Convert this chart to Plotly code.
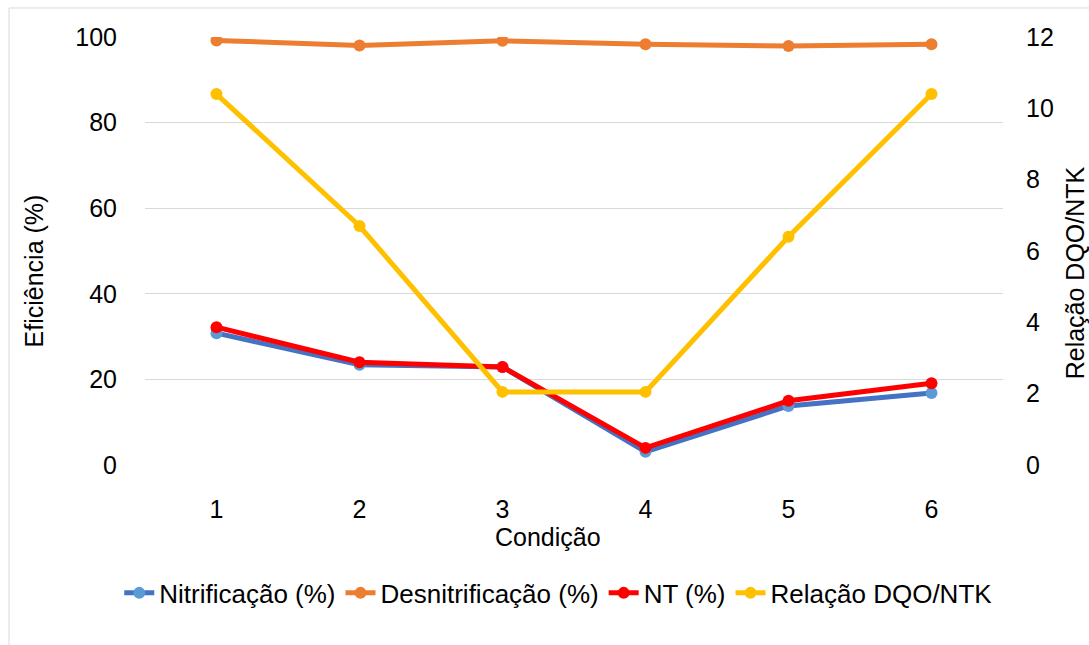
import plotly.graph_objects as go

condicoes = ["1", "2", "3", "4", "5", "6"]
nitrificacao = [30.8, 23.4, 22.9, 3.1, 13.8, 16.8]
desnitrificacao = [99.2, 98.0, 99.1, 98.3, 97.9, 98.3]
nt = [32.2, 24.0, 22.9, 4.0, 15.0, 19.1]
relacao = [10.4, 6.7, 2.05, 2.05, 6.4, 10.4]

FONT = "Liberation Sans, Arial, sans-serif"
FS = 25

fig = go.Figure()
fig.add_trace(go.Scatter(x=condicoes, y=nitrificacao, name="Nitrificação (%)", mode="lines+markers",
                         line=dict(color="#4472C4", width=5), marker=dict(color="#5B9BD5", size=12)))
fig.add_trace(go.Scatter(x=condicoes, y=desnitrificacao, name="Desnitrificação (%)", mode="lines+markers",
                         line=dict(color="#ED7D31", width=5), marker=dict(color="#ED7D31", size=12)))
fig.add_trace(go.Scatter(x=condicoes, y=nt, name="NT (%)", mode="lines+markers",
                         line=dict(color="#FF0000", width=5), marker=dict(color="#FF0000", size=12)))
fig.add_trace(go.Scatter(x=condicoes, y=relacao, name="Relação DQO/NTK", mode="lines+markers", yaxis="y2",
                         line=dict(color="#FFC000", width=5), marker=dict(color="#FFC000", size=12)))

fig.update_layout(
    width=1089, height=645,
    margin=dict(l=145, r=86, t=37, b=180),
    paper_bgcolor="white", plot_bgcolor="white",
    font=dict(family=FONT, size=FS, color="#000000"),
    showlegend=True,
    legend=dict(orientation="h", x=-0.03, xanchor="left", y=-0.299, yanchor="middle",
                font=dict(size=26), itemwidth=30, tracegroupgap=0, bgcolor="rgba(0,0,0,0)"),
    xaxis=dict(type="category", range=[-0.5, 5.5], showgrid=False, zeroline=False, showline=False,
               ticks="outside", ticklen=22, tickcolor="rgba(0,0,0,0)"),
    yaxis=dict(range=[0, 100], dtick=20, showgrid=True, gridcolor="#D9D9D9", gridwidth=1,
               zeroline=False, showline=False, ticks="outside", ticklen=22, tickcolor="rgba(0,0,0,0)"),
    yaxis2=dict(range=[0, 12], dtick=2, overlaying="y", side="right", showgrid=False, zeroline=False,
                showline=False, ticks="outside", ticklen=17, tickcolor="rgba(0,0,0,0)"),
    annotations=[
        dict(text="Condição", xref="paper", yref="paper", x=0.4697, y=-0.168, showarrow=False,
             xanchor="center", yanchor="middle", font=dict(size=FS)),
        dict(text="Eficiência (%)", xref="paper", yref="paper", x=-0.129, y=0.453, showarrow=False,
             textangle=-90, xanchor="center", yanchor="middle", font=dict(size=FS)),
        dict(text="Relação DQO/NTK", xref="paper", yref="paper", x=1.084, y=0.448, showarrow=False,
             textangle=-90, xanchor="center", yanchor="middle", font=dict(size=FS)),
    ],
    shapes=[dict(type="rect", xref="paper", yref="paper", x0=-0.1585, x1=1.12, y0=-0.45, y1=1.0678,
                 line=dict(color="#D9D9D9", width=1), fillcolor="rgba(0,0,0,0)", layer="below")],
)

fig.write_html("out.html", config={"displayModeBar": False},
               post_script="document.body.style.margin='0';document.body.style.overflow='hidden';")
